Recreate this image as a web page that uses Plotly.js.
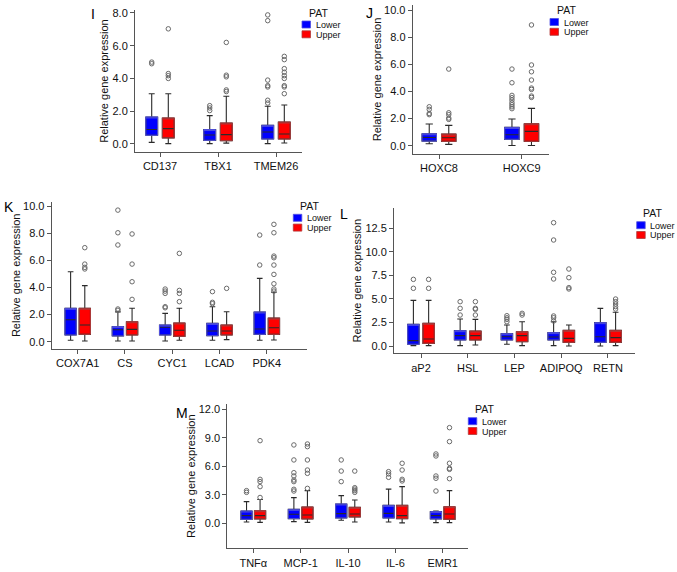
<!DOCTYPE html>
<html>
<head>
<meta charset="utf-8">
<script src="https://cdn.plot.ly/plotly-3.0.1.min.js"></script>
<style>html,body{margin:0;padding:0;background:#fff;}#chart{width:677px;height:572px;}</style>
</head>
<body>
<div id="chart"></div>
<script>
// ---- Data: each box row is [lowerWhisker, Q1, median, Q3, upperWhisker] ----
const I_cats = ['CD137', 'TBX1', 'TMEM26'];
const I_lower_box = [[0.10,0.53,0.88,1.65,3.07],[0.02,0.22,0.55,0.88,1.73],[0.02,0.30,0.73,1.14,2.30]];
const I_lower_out = [[5.0,4.9],[2.34,2.2,2.04],[7.88,7.53,3.9,3.56,3.48,2.67,2.5]];
const I_upper_box = [[0.02,0.37,0.94,1.59,3.07],[0.05,0.20,0.57,1.28,2.91],[0.06,0.30,0.61,1.34,2.38]];
const I_upper_out = [[7.03,4.3,4.17,4.0],[6.2,4.2,4.1,3.3,3.2],[5.35,5.15,4.6,4.38,4.17,4.0,3.56,3.48,3.07]];

const J_cats = ['HOXC8', 'HOXC9'];
const J_lower_box = [[0.15,0.34,0.61,0.88,1.6],[0.02,0.47,0.81,1.35,1.97]];
const J_lower_out = [[2.87,2.68,2.38,2.29],[5.65,4.64,3.71,3.54,3.37,3.17,3.02,2.87,2.73]];
const J_upper_box = [[0.10,0.32,0.59,0.86,1.5],[0.02,0.32,1.06,1.62,2.75]];
const J_upper_out = [[5.65,2.43,2.29,2.04,1.94],[8.9,5.95,5.45,4.84,4.25,4.15,3.66,3.56]];

const K_cats = ['COX7A1', 'CS', 'CYC1', 'LCAD', 'PDK4'];
const K_lower_box = [[0.10,0.49,1.62,2.46,5.16],[0.05,0.42,0.88,1.11,2.2],[0.05,0.49,1.06,1.23,2.09],[0.10,0.44,0.79,1.35,2.58],[0.10,0.54,0.93,2.19,4.67]];
const K_lower_out = [[],[9.7,8.03,7.13,2.41,2.31],[3.88,3.73,3.56,2.58,2.5],[3.69,2.9,2.8],[7.86,5.65]];
const K_upper_box = [[0.05,0.54,1.23,2.46,4.13],[0.05,0.49,0.91,1.47,2.46],[0.10,0.39,0.84,1.38,2.46],[0.15,0.49,0.79,1.23,2.21],[0.12,0.54,1.03,1.74,3.64]];
const K_upper_out = [[6.93,5.72,5.48,5.36],[7.94,5.72,4.42,3.12],[6.51,3.78,3.56,2.95],[3.93],[8.65,8.03,6.31,6.19,5.65,4.96,4.27,3.88,3.73]];

const L_cats = ['aP2', 'HSL', 'LEP', 'ADIPOQ', 'RETN'];
const L_lower_box = [[0.04,0.18,0.57,2.3,4.85],[0.04,0.64,1.1,1.63,2.87],[0.18,0.64,0.99,1.31,2.23],[0.04,0.64,0.96,1.42,2.58],[0.0,0.39,0.99,2.48,4.0]];
const L_lower_out = [[7.08,6.13],[4.71,4.0,3.29],[3.22,3.0,2.83,2.58],[13.1,11.26,7.83,7.12,3.19,3.0,2.66],[]];
const L_upper_box = [[0.04,0.28,0.74,2.41,4.85],[0.1,0.64,1.1,1.59,2.83],[0.04,0.46,1.1,1.52,2.58],[0.0,0.39,0.81,1.66,2.23],[0.04,0.39,0.89,1.66,3.58]];
const L_upper_out = [[7.08,6.13],[4.71,4.0,3.9,3.29],[3.47,3.29],[8.18,7.26,6.2,6.06],[4.99,4.71,4.46,4.18,3.93]];

const M_cats = ['TNFα', 'MCP-1', 'IL-10', 'IL-6', 'EMR1'];
const M_lower_box = [[0.14,0.42,0.81,1.3,2.28],[0.18,0.49,0.95,1.47,2.7],[0.32,0.56,1.02,2.04,2.91],[0.14,0.56,1.05,1.89,3.6],[0.07,0.46,0.81,1.23,1.3]];
const M_lower_out = [[3.44,3.26],[8.25,6.67,5.33,4.98,4.56,4.39,3.58,3.4],[6.67,5.5,4.39],[5.44,5.2,4.84],[7.3,7.09,4.98,4.74,3.4]];
const M_upper_box = [[0.1,0.46,0.81,1.33,2.5],[0.1,0.46,0.88,1.72,3.44],[0.14,0.67,0.98,1.68,2.46],[0.05,0.49,0.81,1.89,3.86],[0.07,0.42,0.98,1.75,3.44]];
const M_upper_out = [[8.7,4.63,4.39,3.86,2.72],[8.35,8.07,6.67,5.61,5.26,3.68],[5.5,3.75,3.6,3.44,3.26],[6.32,5.61,4.63,4.46],[10.07,8.6,6.32,5.79,5.68,4.7]];

const series_names = ['Lower', 'Upper'];
const legend_title = 'PAT';
const y_title = 'Relative gene expression';

// ---- Styling / layout (pixels in a 677x572 page) ----
const W = 677, H = 572;
const FONT = 'Liberation Sans, Arial, Helvetica, sans-serif';
const FILL = ['#0000ff', '#ff0000'];
const EDGE = ['#5050e0', '#b03a3a'];
const AX = '#555555';

const panels = [
  {label:'I', cats:I_cats, box:[I_lower_box, I_upper_box], out:[I_lower_out, I_upper_out],
   dx:[135,302], dy:[10,152], xr:[-0.431,2.448], yr:[-0.49,8.18], dtick:2, off:0.143, w:0.205,
   lab:[93,14], leg:[302,21], stand:1},
  {label:'J', cats:J_cats, box:[J_lower_box, J_upper_box], out:[J_lower_out, J_upper_out],
   dx:[412.7,549], dy:[5,154], xr:[-0.318,1.33], yr:[-0.61,10.37], dtick:2, off:0.118, w:0.175,
   lab:[369,13], leg:[550,18.5], stand:0},
  {label:'K', cats:K_cats, box:[K_lower_box, K_upper_box], out:[K_lower_out, K_upper_out],
   dx:[51.7,307], dy:[201.7,349], xr:[-0.55,4.85], yr:[-0.54,10.32], dtick:2, off:0.15, w:0.24,
   lab:[9,207.5], leg:[293.3,214.3], stand:0},
  {label:'L', cats:L_cats, box:[L_lower_box, L_upper_box], out:[L_lower_out, L_upper_out],
   dx:[394,635], dy:[208,353.3], xr:[-0.578,4.578], yr:[-0.775,14.66], dtick:2.5, off:0.163, w:0.246,
   lab:[344,213.5], leg:[636.7,221.7], stand:1},
  {label:'M', cats:M_cats, box:[M_lower_box, M_upper_box], out:[M_lower_out, M_upper_out],
   dx:[227.3,468], dy:[404,548.3], xr:[-0.549,4.534], yr:[-2.63,12.56], dtick:3, off:0.143, w:0.237,
   lab:[181.5,412.5], leg:[468.3,417.7], stand:0}
];

const px = x => x / W;
const py = y => 1 - y / H;

const traces = [];
const layout = {
  width: W, height: H,
  margin: {l:0, r:0, t:0, b:0},
  paper_bgcolor: '#ffffff', plot_bgcolor: '#ffffff',
  showlegend: false,
  font: {family: FONT, size: 11, color: '#222'},
  annotations: [], shapes: []
};

panels.forEach((p, k) => {
  const n = k === 0 ? '' : String(k + 1);
  const xa = 'x' + n, ya = 'y' + n;
  [0, 1].forEach(s => {
    const sign = s === 0 ? -1 : 1;
    const pos = p.cats.map((c, i) => i + sign * p.off);
    const b = p.box[s];
    // main box: fill, whiskers, median
    traces.push({
      type:'box', orientation:'v', xaxis:xa, yaxis:ya, name:series_names[s], showlegend:false,
      x: pos,
      lowerfence: b.map(r => r[0]), q1: b.map(r => r[1]), median: b.map(r => r[2]),
      q3: b.map(r => r[3]), upperfence: b.map(r => r[4]),
      width: p.w, whiskerwidth: 0.5, boxpoints: false,
      fillcolor: FILL[s], line: {color:'#2a2a2a', width:1.1}, hoverinfo:'skip'
    });
    // coloured outline of the box
    traces.push({
      type:'box', orientation:'v', xaxis:xa, yaxis:ya, name:series_names[s], showlegend:false,
      x: pos,
      lowerfence: b.map(r => r[1]), q1: b.map(r => r[1]), median: b.map(r => r[3]),
      q3: b.map(r => r[3]), upperfence: b.map(r => r[3]),
      width: p.w, whiskerwidth: 0, boxpoints: false,
      fillcolor: 'rgba(0,0,0,0)', line: {color: EDGE[s], width:1}, hoverinfo:'skip'
    });
    // outliers
    const ox = [], oy = [];
    p.out[s].forEach((arr, i) => arr.forEach(v => { ox.push(pos[i]); oy.push(v); }));
    traces.push({
      type:'scatter', mode:'markers', xaxis:xa, yaxis:ya, showlegend:false, name:series_names[s],
      x: ox, y: oy,
      marker: {symbol:'circle-open', size:4.5, color:'#6a6a6a', line:{width:1, color:'#6a6a6a'}},
      hoverinfo:'skip'
    });
  });

  layout['xaxis' + n] = {
    domain: [px(p.dx[0]), px(p.dx[1])], range: p.xr, anchor: ya,
    tickmode: 'array', tickvals: p.cats.map((c, i) => i), ticktext: p.cats,
    showline: true, linecolor: AX, linewidth: 1, ticks: 'outside', ticklen: 4, tickcolor: AX, tickwidth: 1,
    showgrid: false, zeroline: false, fixedrange: true,
    tickfont: {family: FONT, size: 11, color: '#111'}
  };
  layout['yaxis' + n] = {
    domain: [py(p.dy[1]), py(p.dy[0])], range: p.yr, anchor: xa,
    tick0: 0, dtick: p.dtick, tickformat: '.1f',
    showline: true, linecolor: AX, linewidth: 1, ticks: 'outside', ticklen: 4, tickcolor: AX, tickwidth: 1,
    showgrid: false, zeroline: false, fixedrange: true,
    tickfont: {family: FONT, size: 11, color: '#111'},
    title: {text: y_title, font: {family: FONT, size: 11, color: '#111'}, standoff: p.stand}
  };

  // panel letter
  layout.annotations.push({
    xref:'paper', yref:'paper', x: px(p.lab[0]), y: py(p.lab[1]), xanchor:'center', yanchor:'middle',
    text: p.label, showarrow:false, font:{family: FONT, size: 14, color:'#000'}
  });
  // legend
  const lx = p.leg[0], ly = p.leg[1];
  layout.annotations.push({
    xref:'paper', yref:'paper', x: px(lx + 16), y: py(ly - 8.5), xanchor:'center', yanchor:'middle',
    text: legend_title, showarrow:false, font:{family: FONT, size: 10.5, color:'#111'}
  });
  [0, 1].forEach(s => {
    const top = ly + s * 9.8;
    layout.shapes.push({
      type:'rect', xref:'paper', yref:'paper',
      x0: px(lx), x1: px(lx + 8.5), y0: py(top + 7), y1: py(top),
      fillcolor: FILL[s], line: {color: EDGE[s], width: 0.8}
    });
    layout.annotations.push({
      xref:'paper', yref:'paper', x: px(lx + 11.5), y: py(top + 4), xanchor:'left', yanchor:'middle',
      text: series_names[s], showarrow:false, font:{family: FONT, size: 9, color:'#111'}
    });
  });
});

Plotly.newPlot('chart', traces, layout, {displayModeBar:false, staticPlot:true});
</script>
</body>
</html>
